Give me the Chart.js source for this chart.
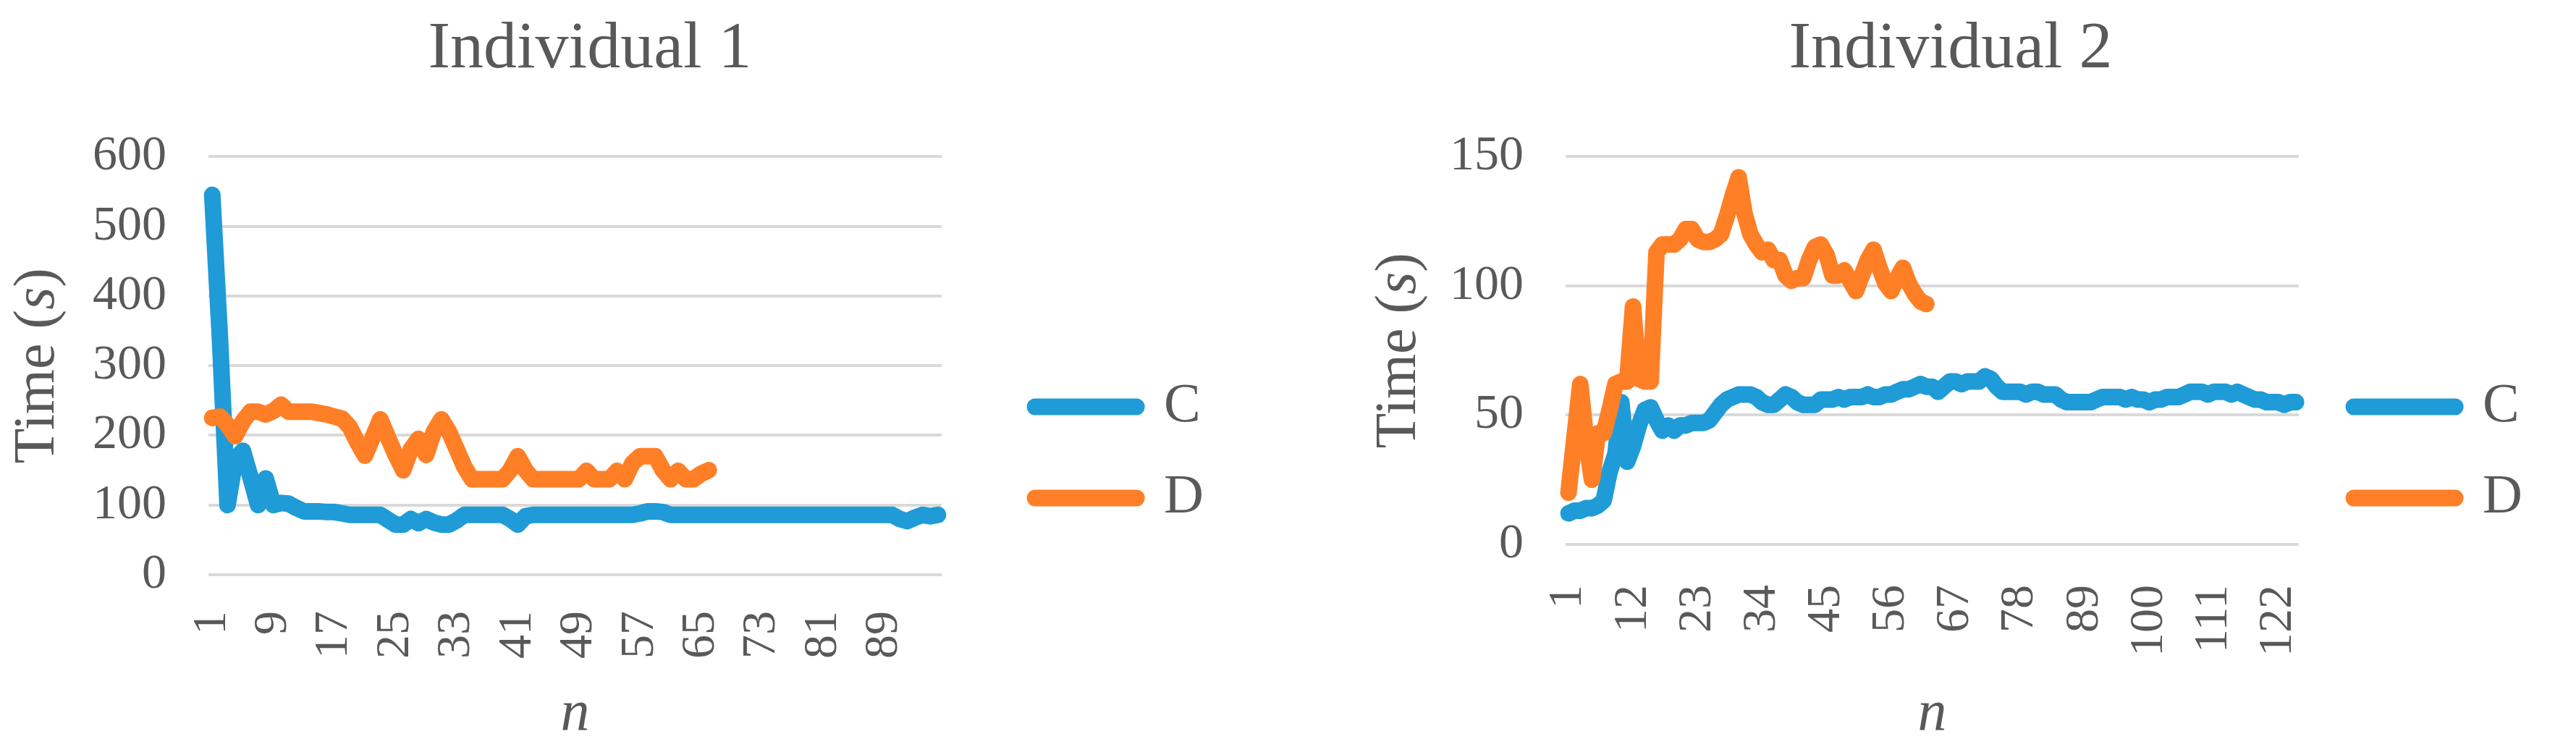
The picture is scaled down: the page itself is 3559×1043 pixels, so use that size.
<!DOCTYPE html>
<html>
<head>
<meta charset="utf-8">
<title>Individual 1 / Individual 2</title>
<script src="https://cdn.jsdelivr.net/npm/chart.js@4.4.1/dist/chart.umd.min.js"></script>
<style>
  html, body { margin: 0; padding: 0; background: #ffffff; overflow: hidden; }
  body { position: relative; width: 3559px; height: 1043px; }
  .box { position: absolute; top: 0; height: 1043px; }
  #box1 { left: -43px; width: 1716px; }
  #box2 { left: 1895px; width: 1600px; }
</style>
</head>
<body>
<div class="box" id="box1"><canvas id="ind1"></canvas></div>
<div class="box" id="box2"><canvas id="ind2"></canvas></div>

<script>
const textGrey = "#595959";
const gridGrey = "#d9d9d9";
const blue = "#1f9bd7";
const orange = "#ff7f27";
const serif = "'Liberation Serif', 'Times New Roman', serif";

/* DATA: Individual 1 */
const cInd1 = [
  545, 340, 100, 165, 178, 140, 100, 138, 100, 103,
  102, 96, 91, 91, 91, 90, 90, 88, 86, 86,
  86, 86, 86, 79, 72, 72, 80, 74, 80, 75,
  72, 72, 78, 86, 86, 86, 86, 86, 86, 80,
  72, 84, 86, 86, 86, 86, 86, 86, 86, 86,
  86, 86, 86, 86, 86, 86, 88, 91, 91, 90,
  86, 86, 86, 86, 86, 86, 86, 86, 86, 86,
  86, 86, 86, 86, 86, 86, 86, 86, 86, 86,
  86, 86, 86, 86, 86, 86, 86, 86, 86, 86,
  80, 77, 82, 86, 84, 86
];
const dInd1 = [
  225, 227, 215, 199, 220, 234, 234, 230, 235, 244,
  234, 234, 234, 234, 232, 230, 227, 224, 212, 190,
  171, 197, 223, 197, 172, 150, 180, 195, 172, 205,
  223, 205, 180, 155, 137, 137, 137, 137, 137, 150,
  170, 150, 137, 137, 137, 137, 137, 137, 137, 149,
  137, 137, 137, 149, 137, 160, 170, 170, 170, 150,
  137, 149, 137, 137, 145, 150
];
const xTicksInd1 = [1, 9, 17, 25, 33, 41, 49, 57, 65, 73, 81, 89];
const yTicksInd1 = [0, 100, 200, 300, 400, 500, 600];

/* DATA: Individual 2 */
const cInd2 = [
  12, 13, 13, 14, 14, 15, 17, 28, 35, 55,
  32, 38, 46, 52, 53, 48, 44, 46, 44, 46,
  46, 47, 47, 47, 48, 51, 54, 56, 57, 58,
  58, 58, 57, 55, 54, 54, 56, 58, 57, 55,
  54, 54, 54, 56, 56, 56, 57, 56, 57, 57,
  57, 58, 57, 57, 58, 58, 59, 60, 60, 61,
  62, 61, 61, 59, 61, 63, 63, 62, 63, 63,
  63, 65, 64, 61, 59, 59, 59, 59, 58, 59,
  59, 58, 58, 58, 56, 55, 55, 55, 55, 55,
  56, 57, 57, 57, 57, 56, 57, 56, 56, 55,
  56, 56, 57, 57, 57, 58, 59, 59, 59, 58,
  59, 59, 59, 58, 59, 58, 57, 56, 56, 55,
  55, 55, 54, 55, 55
];
const dInd2 = [
  20, 41, 62, 40, 25, 43, 43, 52, 62, 63,
  63, 92, 64, 63, 63, 113, 116, 116, 116, 118,
  122, 122, 118, 117, 117, 118, 120, 127, 135, 142,
  128, 120, 116, 113, 114, 110, 110, 104, 102, 103,
  103, 110, 115, 116, 112, 104, 104, 106, 102, 98,
  104, 110, 114, 107, 101, 98, 103, 107, 101, 97,
  94, 93
];
const xTicksInd2 = [1, 12, 23, 34, 45, 56, 67, 78, 89, 100, 111, 122];
const yTicksInd2 = [0, 50, 100, 150];

const yTitleParts = [["Time (", "normal"], ["s", "italic"], [")", "normal"]];

Chart.defaults.font.family = serif;
Chart.defaults.color = textGrey;

// y axis title with an italic "s"
const yTitlePlugin = {
  id: "yTitle",
  afterDraw(chart, args, opts) {
    const {ctx, chartArea} = chart;
    const font = style => style + " 80px " + serif;
    let total = 0;
    yTitleParts.forEach(([t, s]) => { ctx.font = font(s); total += ctx.measureText(t).width; });
    ctx.save();
    ctx.translate(opts.x, (chartArea.top + chartArea.bottom) / 2);
    ctx.rotate(-Math.PI / 2);
    ctx.fillStyle = textGrey;
    ctx.textBaseline = "middle";
    ctx.textAlign = "left";
    let x = -total / 2;
    yTitleParts.forEach(([t, s]) => {
      ctx.font = font(s);
      ctx.fillText(t, x, 0);
      x += ctx.measureText(t).width;
    });
    ctx.restore();
  }
};

function makeChart(id, title, cData, dData, xTicks, yTicks, lay) {
  const ctx = document.getElementById(id);
  return new Chart(ctx, {
    type: "line",
    data: {
      labels: cData.map((v, i) => i + 1),
      datasets: [{
        label: "C",
        data: cData,
        borderColor: blue,
        backgroundColor: blue,
        borderWidth: 23,
        borderCapStyle: "round",
        borderJoinStyle: "round",
        pointRadius: 0,
        pointHoverRadius: 0,
        tension: 0,
        yAxisID: "y",
        order: 1
      }, {
        label: "D",
        data: dData,
        borderColor: orange,
        backgroundColor: orange,
        borderWidth: 23,
        borderCapStyle: "round",
        borderJoinStyle: "round",
        pointRadius: 0,
        pointHoverRadius: 0,
        tension: 0,
        yAxisID: "y",
        order: 0
      }]
    },
    plugins: [yTitlePlugin],
    options: {
      responsive: true,
      maintainAspectRatio: false,
      animation: false,
      devicePixelRatio: 1,
      scales: {
        x: {
          offset: true,
          afterFit: s => { s.height = lay.xHeight; },
          grid: { display: false, drawTicks: false },
          border: { display: false },
          ticks: {
            autoSkip: false,
            minRotation: 90,
            maxRotation: 90,
            padding: lay.xPad,
            color: textGrey,
            font: { size: 66 },
            callback: function (value) {
              const n = this.getLabelForValue(value);
              return xTicks.includes(n) ? String(n) : "";
            }
          },
          title: {
            display: true,
            text: "n",
            color: textGrey,
            font: { size: 80, style: "italic" },
            padding: { top: 0, bottom: 8 }
          }
        },
        y: {
          min: yTicks[0],
          max: yTicks[yTicks.length - 1],
          afterBuildTicks: a => { a.ticks = yTicks.map(v => ({ value: v })); },
          afterFit: s => { s.width = lay.yWidth; },
          grid: { color: gridGrey, lineWidth: 4, drawTicks: false },
          border: { display: false },
          ticks: { padding: 58, color: textGrey, font: { size: 68 } }
        },
        gap: {
          type: "linear",
          position: "right",
          grid: { display: false, drawTicks: false },
          border: { display: false },
          ticks: { display: false },
          afterFit: s => { s.width = lay.gap; }
        }
      },
      plugins: {
        title: {
          display: true,
          text: title,
          color: textGrey,
          font: { size: 92, weight: "normal" },
          padding: { top: 14, bottom: 92 }
        },
        legend: {
          display: true,
          position: "right",
          maxWidth: 400,
          title: { display: true, text: "", font: { size: 10 }, padding: { top: 0, bottom: 195 } },
          labels: {
            boxWidth: 140,
            boxHeight: 0,
            padding: 50,
            color: textGrey,
            font: { size: 76 },
            sort: (a, b) => a.datasetIndex - b.datasetIndex
          }
        },
        tooltip: { enabled: false },
        yTitle: { x: lay.titleX }
      }
    }
  });
}

/* INDIVIDUAL 1 */
makeChart("ind1", "Individual 1", cInd1, dInd1, xTicksInd1, yTicksInd1,
  { yWidth: 331, gap: 79, xHeight: 249, xPad: 50, titleX: 96 });

/* INDIVIDUAL 2 */
makeChart("ind2", "Individual 2", cInd2, dInd2, xTicksInd2, yTicksInd2,
  { yWidth: 268, gap: 26, xHeight: 291, xPad: 56, titleX: 39 });
</script>
</body>
</html>
